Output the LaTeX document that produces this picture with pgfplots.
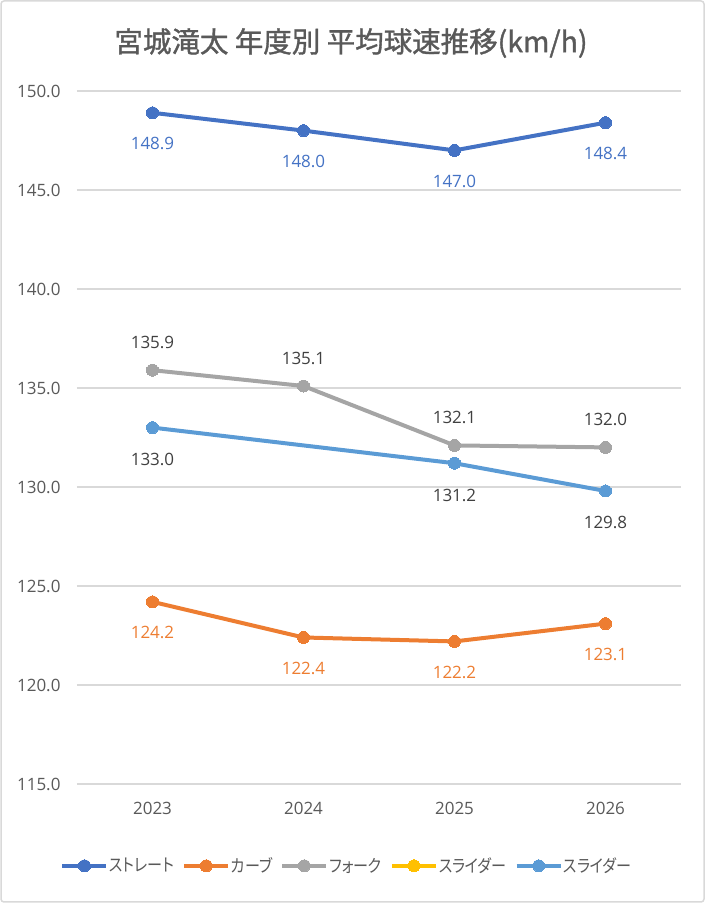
\documentclass[border=0pt]{standalone}
\usepackage{fontspec}
\setmainfont{Open Sans}
\newfontfamily\jp[RawFeature=+palt]{Noto Sans CJK JP}
\newfontfamily\jpt[RawFeature=+palt, FakeBold=1.2]{Noto Sans CJK JP}
\newfontfamily\jpl[RawFeature=+palt, FakeStretch=0.86]{Noto Sans CJK JP}
\usepackage{pgfplots}
\pgfplotsset{compat=1.18}
\definecolor{cBlue}{HTML}{4472C4}
\definecolor{cOrange}{HTML}{ED7D31}
\definecolor{cGray}{HTML}{A5A5A5}
\definecolor{cYellow}{HTML}{FFC000}
\definecolor{cLBlue}{HTML}{5B9BD5}
\definecolor{cGrid}{HTML}{D9D9D9}
\definecolor{cText}{HTML}{595959}
\definecolor{cDark}{HTML}{404040}
\pgfplotsset{
  pstyle/.style={color=#1, line width=4pt, mark=*, mark size=6pt,
    mark options={solid, line width=0pt, fill=#1}},
  lbl/.style 2 args={nodes near coords={\pgfmathprintnumber[fixed,fixed zerofill,precision=1]{\pgfplotspointmeta}},
    every node near coord/.append style={font=\fontsize{17}{20}\selectfont, text=#1, anchor=center, yshift=#2}},
}
\begin{document}
\begin{tikzpicture}
\path[use as bounding box] (0pt,0pt) rectangle (705pt,903pt);
\draw[color=cGrid, line width=1.5pt, rounded corners=3pt] (1pt,1pt) rectangle (704pt,902pt);
\node[font=\jpt\fontsize{28.5}{33}\selectfont, text=cText] at (351pt,860pt) {宮城滝太 年度別 平均球速推移(km/h)};
\begin{axis}[at={(77pt,119pt)}, anchor=south west, width=604pt, height=693pt, scale only axis,
  xmin=-0.5, xmax=3.5, ymin=115, ymax=150,
  xtick={0,1,2,3}, xticklabels={2023,2024,2025,2026},
  ytick={115,120,...,150},
  ymajorgrids, grid style={color=cGrid, line width=1.3pt},
  axis line style={draw=none}, major tick length=0pt,
  /pgf/number format/assume math mode=true,
  /pgf/number format/fixed, /pgf/number format/fixed zerofill, /pgf/number format/precision=1,
  tick label style={font=\fontsize{17}{20}\selectfont, text=cText},
  yticklabel style={anchor=east, xshift=-13pt},
  xticklabel style={anchor=center, yshift=-24pt},
  legend style={at={(axis description cs:0.447,-0.118)}, anchor=center, legend columns=-1,
    draw=none, fill=none, font=\jpl\fontsize{17.5}{20}\selectfont, text=cText,
    /tikz/every even column/.append style={column sep=6pt},
    /tikz/every odd column/.append style={column sep=-1pt}},
  legend image code/.code={\draw[#1, mark repeat=2, mark phase=2] plot coordinates {(0pt,0pt)(22pt,0pt)(44pt,0pt)};},
  clip=false,
]
\addplot[pstyle=cBlue, lbl={cBlue}{-31pt}] coordinates {(0,148.9)(1,148.0)(2,147.0)(3,148.4)};
\addlegendentry{ストレート}
\addplot[pstyle=cOrange, lbl={cOrange}{-31pt}] coordinates {(0,124.2)(1,122.4)(2,122.2)(3,123.1)};
\addlegendentry{カーブ}
\addplot[pstyle=cGray, lbl={cDark}{28pt}] coordinates {(0,135.9)(1,135.1)(2,132.1)(3,132.0)};
\addlegendentry{フォーク}
\addlegendimage{pstyle=cYellow}
\addlegendentry{スライダー}
\addplot[pstyle=cLBlue, lbl={cDark}{-32pt}] coordinates {(0,133.0)(2,131.2)(3,129.8)};
\addlegendentry{スライダー}
\end{axis}
\end{tikzpicture}
\end{document}
